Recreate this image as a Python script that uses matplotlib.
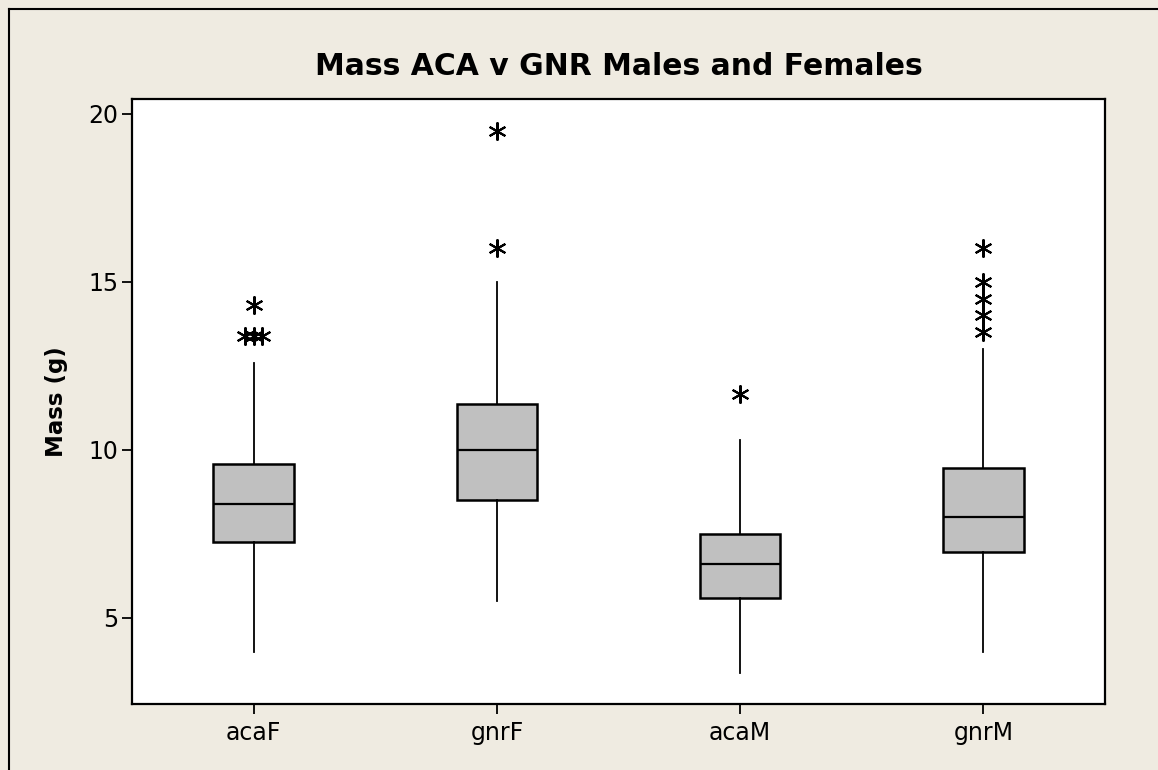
import numpy as np
import matplotlib
matplotlib.use("Agg")
import matplotlib.pyplot as plt
from matplotlib.lines import Line2D

# Dados (massa em g)
grupos = ["acaF", "gnrF", "acaM", "gnrM"]
q1 = [7.27, 8.51, 5.60, 6.96]
mediana = [8.38, 10.0, 6.62, 8.0]
q3 = [9.58, 11.37, 7.50, 9.46]
bigode_inf = [4.0, 5.5, 3.37, 4.0]
bigode_sup = [12.6, 15.0, 10.3, 13.0]
outliers = [
    [14.3, 13.4, 13.4, 13.4],
    [19.5, 16.0],
    [11.65],
    [16.0, 15.0, 14.5, 14.0, 13.5],
]
y_ticks = [5, 10, 15, 20]

FUNDO = "#EFEBE1"
CAIXA = "#C0C0C0"

plt.rcParams["font.family"] = ["DejaVu Sans"]

fig = plt.figure(figsize=(11.58, 7.70), dpi=100, facecolor=FUNDO)
ax = fig.add_axes([132 / 1158, 66 / 770, 973 / 1158, 605 / 770])
ax.set_facecolor("white")

# Estatísticas para o bxp (sem fliers, desenhados à parte com desvio p/ empates)
stats = []
for i, g in enumerate(grupos):
    stats.append({"label": g, "med": mediana[i], "q1": q1[i], "q3": q3[i],
                  "whislo": bigode_inf[i], "whishi": bigode_sup[i], "fliers": []})

pos = np.arange(1, len(grupos) + 1)
ax.bxp(stats, positions=pos, widths=0.33, showcaps=False, showfliers=False,
       patch_artist=True,
       boxprops=dict(facecolor=CAIXA, edgecolor="black", linewidth=1.8),
       medianprops=dict(color="black", linewidth=1.6),
       whiskerprops=dict(color="black", linewidth=1.3))

# Outliers: valores repetidos ficam lado a lado
for p, vals in zip(pos, outliers):
    vals = np.array(vals)
    for v in np.unique(vals):
        n = np.sum(vals == v)
        dx = (np.arange(n) - (n - 1) / 2) * 0.036
        ax.plot(p + dx, [v] * n, linestyle="none", marker=(6, 2, 0),
                markersize=13, markeredgewidth=1.5, color="black")

ax.set_xlim(0.5, 4.5)
ax.set_ylim(2.44, 20.44)
ax.set_xticks(pos)
ax.set_xticklabels(grupos)
ax.set_yticks(y_ticks)
ax.tick_params(direction="out", length=7, width=1.3, labelsize=17, colors="black")
ax.tick_params(axis="x", pad=5)
ax.tick_params(axis="y", pad=3)
for s in ax.spines.values():
    s.set_linewidth(1.6)

ax.set_ylabel("Mass (g)", fontsize=16.5, fontweight="bold")
ax.yaxis.set_label_coords(-0.066, 0.5)
ax.set_title("Mass ACA v GNR Males and Females", fontsize=21.5, fontweight="bold", pad=17)

# Moldura externa (só esquerda e topo aparecem no recorte)
fig.add_artist(Line2D([8.5 / 1158, 8.5 / 1158], [0, 1 - 8.5 / 770],
                      transform=fig.transFigure, color="black", linewidth=1.5))
fig.add_artist(Line2D([8.5 / 1158, 1], [1 - 8.5 / 770, 1 - 8.5 / 770],
                      transform=fig.transFigure, color="black", linewidth=1.5))

fig.savefig("out.png", dpi=100, facecolor=FUNDO)
